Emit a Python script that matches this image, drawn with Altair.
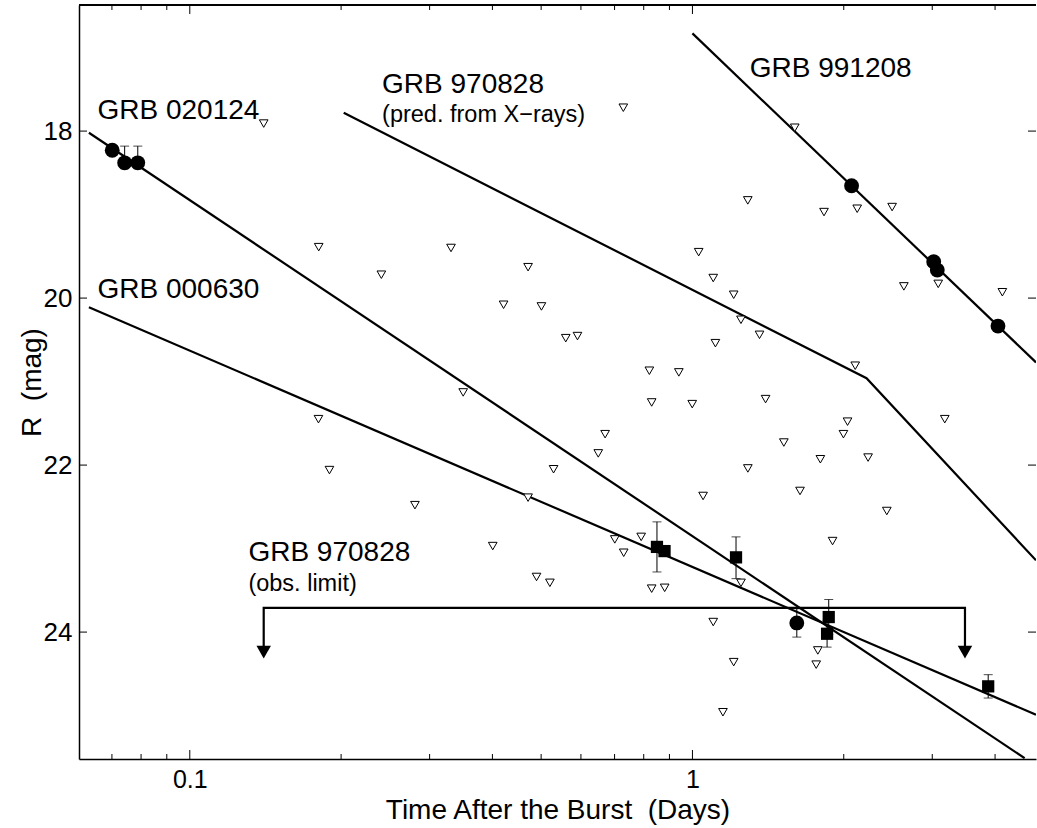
import altair as alt
import pandas as pd

# ---------------- data ----------------
X_DOMAIN = [0.0602, 4.825]          # days (log axis)
Y_DOMAIN = [16.49, 25.52]           # R magnitude (reversed)

x_major = [0.1, 1]
x_minor = [0.07, 0.08, 0.09, 0.2, 0.3, 0.4, 0.5, 0.6, 0.7, 0.8, 0.9, 2, 3, 4]
y_major = [18, 20, 22, 24]

# upper limits (open down-triangles)
lim_t = [0.1403, 0.1805, 0.2405, 0.7286, 1.598, 0.3309, 0.4710, 1.2886, 1.827, 2.127,
         2.496, 1.029, 1.100, 1.208, 2.634, 3.083, 4.136, 0.4210, 0.5007, 1.2489,
         1.3597, 1.111, 0.5597, 0.5906, 0.8209, 0.9396, 2.108, 0.3499, 0.8297, 0.999,
         1.398, 3.177, 2.035, 1.997, 0.6703, 0.6496, 1.520, 1.797, 2.236, 0.5293,
         1.289, 1.050, 1.637, 0.4710, 0.2805, 2.436, 0.4006, 0.7007, 0.7907, 1.900,
         0.7299, 0.4896, 0.5205, 0.8297, 0.8806, 1.249, 1.100, 1.208, 1.776, 1.763,
         1.150, 0.1803, 0.1896]
lim_mag = [17.91, 19.39, 19.72, 17.72, 17.96, 19.40, 19.63, 18.83, 18.97, 18.93,
           18.91, 19.45, 19.76, 19.96, 19.86, 19.83, 19.93, 20.08, 20.10, 20.26,
           20.44, 20.54, 20.48, 20.455, 20.87, 20.89, 20.81, 21.13, 21.25, 21.27,
           21.21, 21.45, 21.48, 21.63, 21.63, 21.86, 21.73, 21.93, 21.91, 22.05,
           22.04, 22.37, 22.31, 22.39, 22.48, 22.55, 22.97, 22.89, 22.86, 22.91,
           23.05, 23.34, 23.41, 23.48, 23.47, 23.41, 23.88, 24.36, 24.22, 24.39,
           24.96, 21.45, 22.06]

# detections: filled circles and filled squares
circ_t = [0.0701, 0.0742, 0.0788, 2.073, 3.02, 3.07, 4.054, 1.613]
circ_mag = [18.23, 18.38, 18.38, 18.655, 19.565, 19.665, 20.335, 23.89]
sq_t = [0.850, 0.880, 1.221, 1.867, 1.853, 3.876]
sq_mag = [22.98, 23.03, 23.105, 23.82, 24.02, 24.65]

# error bars
err_t = [0.0742, 0.0788, 1.613, 0.850, 1.221, 1.867, 1.853, 3.876]
err_lo = [18.18, 18.18, 23.72, 22.68, 22.86, 23.61, 23.86, 24.51]
err_hi = [18.45, 18.45, 24.06, 23.28, 23.36, 24.03, 24.18, 24.79]

# power-law decay lines (vertices)
l020124_t = [0.0630, 4.58]
l020124_mag = [18.02, 25.51]
l000630_t = [0.0630, 4.825]
l000630_mag = [20.11, 24.99]
l970828_t = [0.2024, 2.22, 4.825]
l970828_mag = [17.78, 20.96, 23.14]
l991208_t = [1.0, 4.825]
l991208_mag = [16.83, 20.77]

# GRB 970828 observation-limit bracket
br_t = [0.1403, 0.1403, 3.485, 3.485]
br_mag = [24.18, 23.71, 23.71, 24.18]
arr_t = [0.1403, 3.485]
arr_mag = [24.24, 24.24]

# labels
main_text = ["GRB 020124", "GRB 000630", "GRB 970828", "GRB 991208", "GRB 970828"]
main_t = [0.06553, 0.06553, 0.2413, 1.300, 0.1308]
main_mag = [17.76, 19.90, 17.45, 17.26, 23.05]
sub_text = ["(pred. from X\u2212rays)", "(obs. limit)"]
sub_t = [0.2413, 0.1308]
sub_mag = [17.81, 23.43]

# ---------------- chart ----------------
W, H = 957, 754
FONT = "Liberation Sans"

xscale = alt.Scale(type="log", domain=X_DOMAIN, nice=False)
yscale = alt.Scale(domain=Y_DOMAIN, reverse=True, nice=False, zero=False)

xaxis = alt.Axis(values=x_major, format="~g", ticks=False, grid=False,
                 domainColor="black", domainWidth=1.5,
                 labelFont=FONT, labelFontSize=25, labelColor="black",
                 labelBaseline="alphabetic", labelPadding=28,
                 title="Time After the Burst \u00a0(Days)", titleFont=FONT,
                 titleFontSize=28, titleFontWeight="normal", titleColor="black",
                 titleBaseline="alphabetic", titleY=59)
yaxis = alt.Axis(values=y_major, ticks=False, grid=False,
                 domainColor="black", domainWidth=1.5,
                 labelFont=FONT, labelFontSize=26, labelColor="black", labelPadding=7,
                 title="R \u00a0(mag)", titleFont=FONT, titleFontSize=28,
                 titleFontWeight="normal", titleColor="black",
                 titleAngle=270, titleAlign="center", titleBaseline="alphabetic",
                 titleX=-39, titleY=H / 2)


def X():
    return alt.X("t:Q", scale=xscale, axis=xaxis)


def Y():
    return alt.Y("mag:Q", scale=yscale, axis=yaxis)


def lines_df():
    rows = []
    for name, ts, ms in [("020124", l020124_t, l020124_mag),
                         ("000630", l000630_t, l000630_mag),
                         ("970828", l970828_t, l970828_mag),
                         ("991208", l991208_t, l991208_mag),
                         ("bracket", br_t, br_mag)]:
        for i, (t, m) in enumerate(zip(ts, ms)):
            rows.append({"grb": name, "i": i, "t": t, "mag": m})
    return pd.DataFrame(rows)


lim_df = pd.DataFrame({"t": lim_t, "mag": lim_mag})
circ_df = pd.DataFrame({"t": circ_t, "mag": circ_mag})
sq_df = pd.DataFrame({"t": sq_t, "mag": sq_mag})
err_df = pd.DataFrame({"t": err_t, "mag": err_lo, "hi": err_hi})
err_hi_df = pd.DataFrame({"t": err_t, "mag": err_hi})
err_lo_df = pd.DataFrame({"t": err_t, "mag": err_lo})
arr_df = pd.DataFrame({"t": arr_t, "mag": arr_mag})
main_df = pd.DataFrame({"t": main_t, "mag": main_mag, "label": main_text})
sub_df = pd.DataFrame({"t": sub_t, "mag": sub_mag, "label": sub_text})
xmaj_df = pd.DataFrame({"t": x_major})
xmin_df = pd.DataFrame({"t": x_minor})
ymaj_df = pd.DataFrame({"mag": y_major})

layers = []

# frame: top line
layers.append(alt.Chart(ymaj_df).mark_rule(color="black", strokeWidth=1.5).encode(
    x=alt.value(0), x2=alt.value(W), y=alt.value(0)))

# inward ticks
for df, ln in [(xmaj_df, 9), (xmin_df, 5)]:
    layers.append(alt.Chart(df).mark_rule(color="black", strokeWidth=1).encode(
        x=X(), y=alt.value(H), y2=alt.value(H - ln)))
    layers.append(alt.Chart(df).mark_rule(color="black", strokeWidth=1).encode(
        x=X(), y=alt.value(0), y2=alt.value(ln)))
layers.append(alt.Chart(ymaj_df).mark_rule(color="black", strokeWidth=1).encode(
    y=Y(), x=alt.value(0), x2=alt.value(8)))
layers.append(alt.Chart(ymaj_df).mark_rule(color="black", strokeWidth=1).encode(
    y=Y(), x=alt.value(W - 8), x2=alt.value(W)))

# lines
layers.append(alt.Chart(lines_df()).mark_line(color="black", strokeWidth=2.2, clip=True).encode(
    x=X(), y=Y(), detail="grb:N", order="i:Q"))

# arrow heads
layers.append(alt.Chart(arr_df).mark_point(shape="triangle-down", filled=True, color="black",
                                           size=210, opacity=1).encode(x=X(), y=Y()))

# upper limits
layers.append(alt.Chart(lim_df).mark_point(shape="triangle-down", filled=True, fill="white",
                                           stroke="black", strokeWidth=1, size=75,
                                           opacity=1).encode(x=X(), y=Y()))

# error bars
layers.append(alt.Chart(err_df).mark_rule(color="black", strokeWidth=1).encode(
    x=X(), y=Y(), y2="hi:Q"))
for df in (err_hi_df, err_lo_df):
    layers.append(alt.Chart(df).mark_tick(color="black", orient="horizontal", size=9,
                                          thickness=1).encode(x=X(), y=Y()))

# detections
layers.append(alt.Chart(circ_df).mark_point(shape="circle", filled=True, color="black",
                                            size=220, opacity=1).encode(x=X(), y=Y()))
layers.append(alt.Chart(sq_df).mark_point(shape="square", filled=True, color="black",
                                          size=150, opacity=1).encode(x=X(), y=Y()))

# labels
layers.append(alt.Chart(main_df).mark_text(align="left", baseline="middle", font=FONT,
                                           fontSize=28, color="black").encode(
    x=X(), y=Y(), text="label:N"))
layers.append(alt.Chart(sub_df).mark_text(align="left", baseline="middle", font=FONT,
                                          fontSize=23.5, color="black").encode(
    x=X(), y=Y(), text="label:N"))

chart = alt.layer(*layers).properties(
    width=W, height=H,
    autosize=alt.AutoSizeParams(type="none"),
    padding={"left": 79, "top": 5, "right": 1, "bottom": 69},
    background="white",
).configure_view(strokeWidth=0)

chart.save("out.html", embed_options={"renderer": "svg", "actions": False})
